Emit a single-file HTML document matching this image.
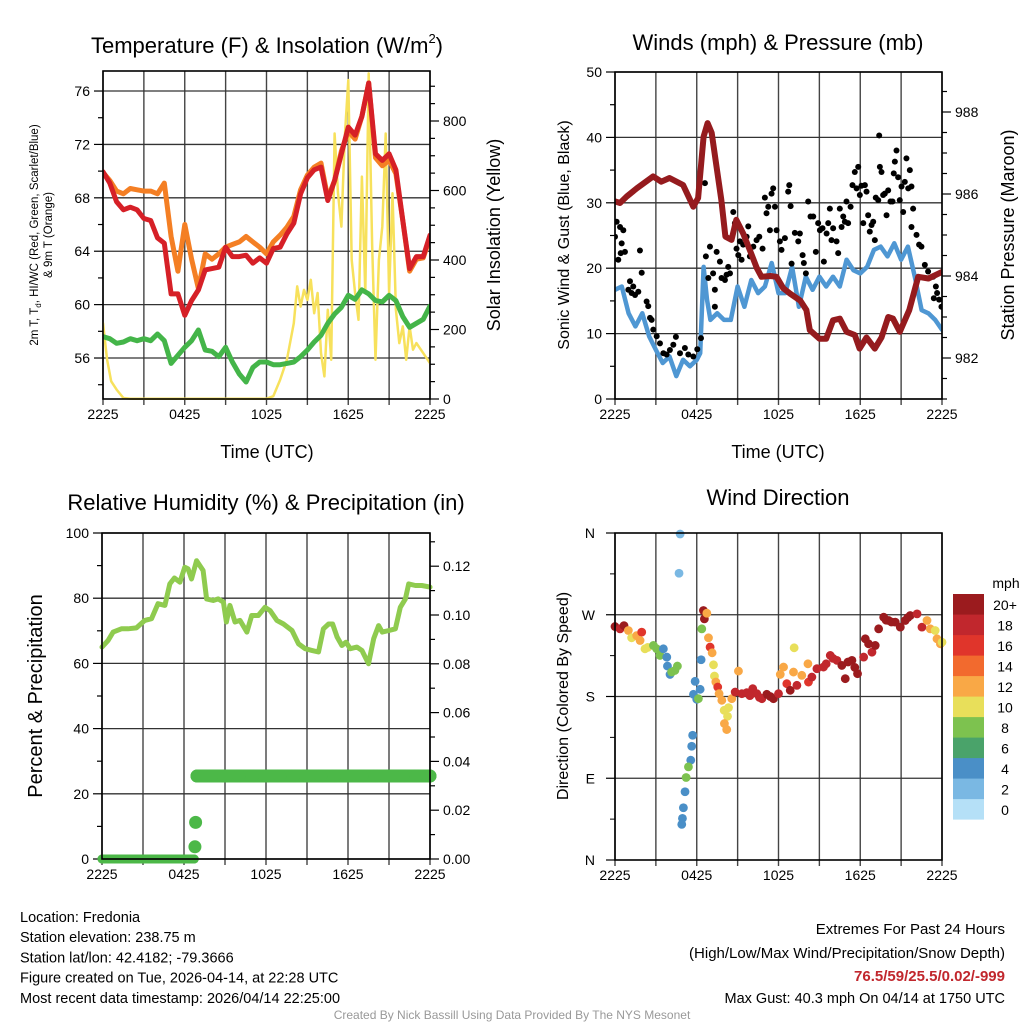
<!DOCTYPE html>
<html><head><meta charset="utf-8"><style>
body{margin:0;background:#fff;}
svg{display:block;font-family:"Liberation Sans",sans-serif;}
</style></head><body>
<svg id="c" width="1024" height="1024" viewBox="0 0 1024 1024"></svg>
<script>
// ---------- Panel 1 data ----------
const tHalf=[0,0.5,1,1.5,2,2.5,3,3.5,4,4.5,5,5.5,6,6.5,7,7.5,8,8.5,9,9.5,10,10.5,11,11.5,12,12.5,13,13.5,14,14.5,15,15.5,16,16.5,17,17.5,18,18.5,19,19.5,20,20.5,21,21.5,22,22.5,23,23.5,24];
const temp2m=[69.95,69.1,67.7,67.1,67.3,67.1,66.45,66.3,65,64.6,60.8,60.8,59.2,60.3,61.1,62.6,62.7,62.8,64.3,63.6,63.6,63.7,63.1,63.5,63.1,64.2,64.3,65.3,66.1,68.3,69.5,70.1,70.3,67.8,69.3,71.3,73.3,72.7,74.1,76.6,71.3,70.8,71.3,70.1,66.3,62.7,63.6,63.6,65.2];
const temp9m=[69.9,69.3,68.5,68.3,68.7,68.6,68.5,68.5,68.3,69.1,65.1,62.5,66.0,63.4,61.2,63.8,63.4,63.8,64.3,64.5,64.7,65.1,64.7,64.3,63.8,64.7,65.2,65.8,66.6,68.6,69.7,70.3,70.6,68.0,69.3,71.5,73.0,72.4,74.1,76.6,71.0,70.4,70.8,69.8,66.3,62.5,63.4,63.5,65.0];
const dewpt=[57.6,57.45,57.1,57.2,57.45,57.3,57.45,57.3,57.8,57.3,55.6,56.2,56.8,57.3,58.1,56.6,56.5,56.1,56.8,55.7,54.8,54.2,55.3,55.7,55.7,55.5,55.5,55.6,55.7,56.1,56.6,57.2,57.7,58.6,59.3,59.8,60.7,60.4,61.1,60.8,60.3,60.2,60.7,60.3,59.1,58.3,58.6,58.9,59.9];
const solarT=[0,0.3,0.6,1,1.5,2,4,6,8,10,12,12.5,13,13.5,14,14.25,14.5,14.75,15,15.25,15.5,15.75,16,16.25,16.5,16.75,17,17.25,17.5,17.75,18,18.25,18.5,18.75,19,19.25,19.5,19.75,20,20.25,20.5,20.75,21,21.25,21.5,21.75,22,22.25,22.5,22.75,23,23.5,24];
const solarV=[218,113,51,27,3,1,1,1,1,1,1,8,55,113,218,324,266,314,285,343,247,305,132,65,257,113,764,592,496,755,918,400,305,228,640,305,937,448,113,400,496,764,305,592,257,161,209,113,209,142,161,132,103];
// ---------- Panel 2 data ----------
const presT=[0,0.37,0.86,1.6,2.8,3.4,4.0,5.0,5.75,6.1,6.5,6.8,7.1,7.45,7.8,8.1,8.55,8.9,9.4,9.9,10.4,10.75,11.4,11.85,12.35,12.85,13.6,14.05,14.3,15.0,15.5,16.0,16.5,17.0,17.6,17.95,18.46,19.07,19.56,20.05,20.4,20.9,21.6,22.25,23.0,24];
const presV=[985.82,985.78,985.94,986.14,986.43,986.3,986.39,986.22,985.69,985.9,987.4,987.73,987.49,986.67,985.86,984.96,984.88,985.37,985.04,984.63,984.2,983.98,984.0,983.98,983.7,983.57,983.4,983.17,982.68,982.47,982.47,982.92,982.96,982.64,982.56,982.23,982.5,982.23,982.5,983.0,982.96,982.64,983.17,983.98,983.94,984.1];
const windT=[0,0.5,1,1.5,2,2.5,3,3.5,4,4.5,5,5.5,6,6.25,6.5,6.75,7,7.5,8,8.5,9,9.5,10,10.5,11,11.5,12,12.5,13,13.5,14,14.5,15,15.5,16,16.5,17,17.5,18,18.5,19,19.5,20,20.5,21,21.5,22,22.5,23,23.5,24];
const windV=[16.7,17.2,13.1,11.1,13.1,9.6,7.5,5.5,6.5,3.5,6.0,5.0,6.0,7.0,20.2,15.2,12.1,13.1,12.1,12.1,17.2,14.1,18.2,16.2,17.2,20.8,16.2,16.2,20.2,14.1,18.7,16.7,18.7,17.2,18.7,17.2,21.3,19.7,19.2,20.2,22.8,23.3,21.8,23.8,21.3,23.3,18.7,13.6,13.1,12.1,10.6];
const gustT=[0,0.12,0.37,0.61,0.24,0.49,0.73,0.42,1.83,1.1,0.98,1.22,1.47,1.71,1.96,1.34,2.32,2.44,2.57,2.69,2.81,3.06,3.3,3.55,3.79,4.03,4.28,4.47,4.77,5.13,5.38,5.75,6.04,6.31,6.6,6.67,6.85,6.97,7.2,7.33,7.33,7.46,7.7,7.82,8.07,8.19,8.31,8.44,8.68,8.8,8.92,9.05,9.17,9.29,9.41,9.66,9.78,9.9,10.15,10.39,10.59,10.83,11,11.12,11.25,11.37,11.49,11.61,11.74,11.86,12.1,12.22,12.47,12.71,12.79,12.89,12.96,13.2,13.45,13.57,13.77,13.86,14.01,14.18,14.35,14.55,14.74,14.91,15.04,15.23,15.33,15.53,15.65,15.77,15.89,16.01,16.26,16.38,16.5,16.63,16.75,16.87,16.99,17.11,17.29,17.43,17.6,17.73,17.85,17.97,18.09,18.22,18.34,18.46,18.58,18.7,18.83,18.95,19.07,19.14,19.32,19.44,19.39,19.56,19.68,19.8,19.93,20.05,20.22,20.37,20.46,20.54,20.66,20.78,20.9,21.03,21.15,21.27,21.39,21.52,21.64,21.76,21.88,21.76,22.13,22.32,22.49,22.74,22.98,23.35,23.55,23.64,23.79,23.4,23.96];
const gustV=[24.8,27.1,26.3,25.8,21.3,23.8,22.5,22.3,22.7,18,16.7,16.2,15.9,16.4,19.3,17.2,14.9,14.2,12.4,12.1,10.6,9.6,8.5,7.0,6.8,7.5,8.3,9.5,7.0,7.8,6.8,6.5,7.6,9.3,33,21.8,18.5,23.3,19.2,16.7,14.1,22.5,21,18.5,18.2,19,20.2,19.2,28.6,26.9,23,22,24.1,21.3,23.6,24.8,26.4,21.8,23.3,24.3,24.8,23,30.8,28.4,29.4,25.8,31.4,32.2,29.4,25.8,24.1,22.8,24.6,31.7,32.7,29.5,20.7,25.4,24.1,25.3,22,20.8,19.2,30.2,27.9,27.9,22.5,26.9,25.8,26.1,21,25.3,26.9,29.1,24.3,26.1,24.1,22.3,29.1,26.3,27.9,27.1,30.2,26.9,29.4,32.7,34.7,32.2,35.5,31.2,32.6,26.9,32.7,31.7,28.1,25.6,26.6,27.1,24.3,30.8,30.4,35.5,40.3,34.7,31.2,31.4,28.1,31.9,30.2,30.2,34.5,36.3,38,33.9,30.4,32.5,28.6,33.2,36.8,32.2,35,32.5,29.1,26.3,25.1,23.6,23.3,20.5,19.5,18.7,17.2,16.2,15.2,15.4,14.1];
// ---------- Panel 3 data ----------
const rhT=[0,0.44,0.81,1.42,1.9,2.52,3.13,3.62,4.1,4.6,4.96,5.3,5.7,6.06,6.3,6.55,6.92,7.4,7.65,8.14,8.5,8.88,9.1,9.36,9.73,10.1,10.6,10.95,11.44,11.93,12.3,12.8,13.28,13.9,14.38,14.87,15.35,15.84,16.2,16.58,16.87,17.2,17.55,17.85,18.17,18.65,19.02,19.5,19.88,20.24,20.5,21,21.47,21.83,22.2,22.44,22.93,23.4,24];
const rhV=[65,67,69.6,70.6,70.6,70.9,73.2,73.7,78.3,77.8,84.4,86.2,84.9,89.5,89,85.9,91.5,88.5,79.8,79.3,79.8,78.8,72.7,77.8,72.7,73.2,69.6,74.7,74.7,77.2,76.2,73.2,72.1,70.1,66,64.5,64,63.5,70.6,72.1,72.1,68.1,65.5,66.5,64.5,65,64,59.9,67.6,71.6,69.6,70.1,70.6,77.2,79.8,84.4,83.9,83.9,83.4];
const precipT=[0,0.5,1,1.5,2,2.5,3,3.5,4,4.5,5,5.5,6,6.5,6.75,6.8,6.85,6.95,7.5,8,9,10,11,12,13,14,15,16,17,18,19,20,21,22,23,24];
const precipV=[0,0,0,0,0,0,0,0,0,0,0,0,0,0,0,0.005,0.015,0.034,0.034,0.034,0.034,0.034,0.034,0.034,0.034,0.034,0.034,0.034,0.034,0.034,0.034,0.034,0.034,0.034,0.034,0.034];
// ---------- Panel 4 data ----------
const dirT=[0,0.37,0.66,0.98,1.22,1.59,1.96,1.84,2.2,2.4,2.82,3.06,3.3,3.55,3.8,3.85,4.04,4.16,4.4,4.58,4.78,4.7,5.76,5.88,6,6.12,6.25,6.32,6.37,6.49,6.56,6.74,5.7,5.63,5.56,5.39,5.22,5.14,5.02,4.95,4.9,6.86,6.98,7.13,7.23,7.3,7.4,7.54,7.64,7.84,8.01,8.26,8.33,8.03,8.2,8.57,8.82,9.06,9.31,9.67,10.11,10.41,10.78,11.14,11.63,12,12.13,12.37,12.61,12.86,13.15,13.1,13.35,13.71,14.16,14.2,14.45,14.82,15.3,15.8,16.29,16.65,16.9,17.39,17.8,18.25,18.37,18.61,18.86,19.1,19.35,19.72,20.08,20.57,20.94,21.3,21.67,22.17,22.53,22.9,23.14,23.5,23.63,23.88,24,9.9,10.6,11.4,15.5,16,17.1,17.6,19.9,20.3,21.5];
const dirV=[257,254.5,258,252.7,244.6,247,250.9,241.7,232.5,234,236.2,232.5,225.2,232.5,223.4,213.5,204.3,207,208.7,213.5,358.9,315.7,182.4,196.7,176.9,177.6,187.9,220.5,254.5,274.7,265.5,271.7,137.3,125.2,109.9,102.5,90.8,75.1,57.5,45.8,39.2,244.6,234.4,228.1,214.9,202.5,196,190.4,183.1,175.8,164.8,158.2,167.7,150.2,143.6,177.6,184.9,208,183.1,184.2,188.6,183.1,177.6,182.4,177.6,183.1,204.3,212.4,194.1,186.8,233.6,206.9,192.3,203.3,216,195.9,201.4,210.6,212.4,225.2,219.8,214.2,199.6,219.8,205.1,223.4,243.5,238,228.8,236.2,254.5,267.3,263.7,261.9,256.4,263.7,269.2,271,256.4,263.7,254.5,252.7,243.5,238,239.8,181,179,180,216,222,218,212,264,262,267];
const dirS=[21,18,21,12,10,12,15,12,10,10,7,7,7,4,4,4,4,7,7,7,2,2,4,4,4,7,4,4,7,21,21,12,4,4,4,7,7,4,4,4,4,12,15,12,10,10,12,16,12,12,10,10,10,12,12,12,18,12,18,18,18,18,18,21,21,18,12,12,16,21,10,12,18,12,12,16,18,18,18,18,18,21,21,21,21,18,21,21,18,21,21,21,21,21,21,21,21,18,18,12,12,10,12,12,10,18,18,21,18,18,21,21,21,21,21];
const cbLabels=["0","2","4","6","8","10","12","14","16","18","20+"];
const cbColors=["#b5e0f7","#7ab8e3","#4a8fc7","#4aa36a","#7dc24f","#e8df5a","#f9a846","#f26a2e","#e0352b","#c1272d","#9b1b1e"];

const NS="http://www.w3.org/2000/svg";
const svg=document.getElementById('c');
function el(tag,attrs,parent){const e=document.createElementNS(NS,tag);for(const k in attrs)e.setAttribute(k,attrs[k]);(parent||svg).appendChild(e);return e;}
function txt(s,x,y,size,anchor,parent,extra){const e=el('text',Object.assign({x:x,y:y,'font-size':size,'text-anchor':anchor||'middle',fill:'#000'},extra||{}),parent);e.textContent=s;return e;}

function panel(name,b){
  const g=el('g',{});
  
  
  const xs=t=>b.x0+t/24*(b.x1-b.x0);
  for(let h=0;h<=24;h+=3){const x=xs(h);const l=el('line',{x1:x,x2:x,y1:b.y0,y2:b.y1+6,stroke:'#444','stroke-width':1.4},g);}
  const xl=["2225","0425","1025","1625","2225"];
  for(let i=0;i<5;i++){const t=txt(xl[i],xs(i*6),b.y1+20,14,'middle',g);}
  return {g,xs};
}
function frame(g,b){const r=el('rect',{x:b.x0,y:b.y0,width:b.x1-b.x0,height:b.y1-b.y0,fill:'none',stroke:'#000','stroke-width':1.6},g);}
function yAxis(g,b,lo,hi,major,minor,side,fmt,grid){
  const ys=v=>b.y1-(v-lo)/(hi-lo)*(b.y1-b.y0);
  const x=side==='l'?b.x0:b.x1, d=side==='l'?-1:1;
  for(let v=Math.ceil(lo/minor-1e-9)*minor;v<=hi+1e-9;v+=minor){
    const y=ys(v);const isMaj=Math.abs(v/major-Math.round(v/major))<1e-6;
    if(isMaj&&grid){const l=el('line',{x1:b.x0,x2:b.x1,y1:y,y2:y,stroke:'#333','stroke-width':1.3},g);}
    const tk=el('line',{x1:x,x2:x+d*(isMaj?9:5),y1:y,y2:y,stroke:'#000','stroke-width':1.2},g);
    if(isMaj&&fmt){const t=txt(fmt(Math.round(v*1000)/1000),x+d*13,y+5,14,side==='l'?'end':'start',g);}
  }
  return ys;
}
function line(g,xs,ys,T,V,color,w,name){
  let d='';for(let i=0;i<T.length;i++)d+=(i?'L':'M')+xs(T[i]).toFixed(1)+' '+ys(V[i]).toFixed(1);
  const p=el('path',{d:d,fill:'none',stroke:color,'stroke-width':w,'stroke-linejoin':'round','stroke-linecap':'round'},g);
  return p;
}
function clipFor(id,b){const cp=el('clipPath',{id:id});el('rect',{x:b.x0,y:b.y0-2,width:b.x1-b.x0,height:b.y1-b.y0+4},cp);}

// ===== Panel 1 =====
const b1={x0:103,x1:430,y0:71,y1:399};
const p1=panel('temperature-panel',b1);
const yT=yAxis(p1.g,b1,52.93,77.5,4,2,'l',v=>String(v),true);
const yS=yAxis(p1.g,b1,0,(399-71)/0.3475,200,50,'r',v=>String(v),false);
clipFor('c1',b1);
const s1=el('g',{'clip-path':'url(#c1)'},p1.g);
line(s1,p1.xs,yS,solarT,solarV,'#f7e15c',2.5,'solar-insolation-line');
line(s1,p1.xs,yT,tHalf,temp9m,'#f47f24',5,'temp-9m-line');
line(s1,p1.xs,yT,tHalf,temp2m,'#d62027',5,'temp-2m-line');
line(s1,p1.xs,yT,tHalf,dewpt,'#44b549',5,'dewpoint-line');
frame(p1.g,b1);
(function(){const t=el('text',{x:267,y:53,'font-size':22,'text-anchor':'middle'});t.innerHTML='Temperature (F) &amp; Insolation (W/m<tspan font-size="13" dy="-10">2</tspan><tspan dy="10">)</tspan>';})();
txt('Time (UTC)',267,458,18,'middle',svg,{});
(function(){const t=el('text',{transform:'translate(38,235) rotate(-90)','font-size':11.5,'text-anchor':'middle'});t.innerHTML='2m T, T<tspan font-size="8" dy="3">d</tspan><tspan dy="-3">, HI/WC (Red, Green, Scarlet/Blue)</tspan>';})();
txt('& 9m T (Orange)',0,0,11.5,'middle',svg,{transform:'translate(52,235) rotate(-90)',});
txt('Solar Insolation (Yellow)',0,0,18,'middle',svg,{transform:'translate(500,235) rotate(-90)',});

// ===== Panel 2 =====
const b2={x0:615,x1:942,y0:72,y1:399};
const p2=panel('wind-pressure-panel',b2);
const yW=yAxis(p2.g,b2,0,50,10,5,'l',v=>String(v),true);
const yP=yAxis(p2.g,b2,982-(399-358)/41,988+(112-72)/41,2,0.5,'r',v=>String(v),false);
clipFor('c2',b2);
const s2=el('g',{'clip-path':'url(#c2)'},p2.g);
line(s2,p2.xs,yW,windT,windV,'#4f97d3',4.5,'sonic-wind-line');
for(let i=0;i<gustT.length;i++){const c=el('circle',{cx:p2.xs(gustT[i]),cy:yW(gustV[i]),r:3,fill:'#000'},s2);

}
line(s2,p2.xs,yP,presT,presV,'#951b1e',6,'pressure-line');
frame(p2.g,b2);
txt('Winds (mph) & Pressure (mb)',778,50,22,'middle',svg,{});
txt('Time (UTC)',778,458,18,'middle',svg,{});
txt('Sonic Wind & Gust (Blue, Black)',0,0,16,'middle',svg,{transform:'translate(569,235) rotate(-90)',});
txt('Station Pressure (Maroon)',0,0,18,'middle',svg,{transform:'translate(1014,235) rotate(-90)',});

// ===== Panel 3 =====
const b3={x0:102,x1:430,y0:533,y1:859};
const p3=panel('humidity-precip-panel',b3);
const yR=yAxis(p3.g,b3,0,100,20,10,'l',v=>String(v),true);
const yPr=yAxis(p3.g,b3,0,(859-533)/2440,0.02,0.01,'r',v=>v.toFixed(2),false);
clipFor('c3',{x0:95,x1:440,y0:533,y1:870});
const s3=el('g',{'clip-path':'url(#c3)'},p3.g);
line(s3,p3.xs,yR,rhT,rhV,'#8fcb4f',5,'humidity-line');
line(s3,p3.xs,yPr,precipT.slice(0,15),precipV.slice(0,15),'#4cb848',9,'precip-line-initial');
line(s3,p3.xs,yPr,precipT.slice(17),precipV.slice(17),'#4cb848',13,'precip-line');
for(let i=0;i<precipT.length;i++){const c=el('circle',{cx:p3.xs(precipT[i]),cy:yPr(precipV[i]),r:i<15?4.5:6.5,fill:'#4cb848'},s3);

}
frame(p3.g,b3);
txt('Relative Humidity (%) & Precipitation (in)',266,510,22,'middle',svg,{});
txt('Percent & Precipitation',0,0,20,'middle',svg,{transform:'translate(42,696) rotate(-90)',});

// ===== Panel 4 =====
const b4={x0:615,x1:942,y0:533,y1:860};
const p4=panel('wind-direction-panel',b4);
const yD=v=>b4.y1-v/360*(b4.y1-b4.y0);
const dl=["N","E","S","W","N"];
for(let i=0;i<5;i++){const y=yD(i*90);
if(i>0&&i<4){const gl=el('line',{x1:b4.x0,x2:b4.x1,y1:y,y2:y,stroke:'#333','stroke-width':1.3},p4.g);}
const tk=el('line',{x1:b4.x0,x2:b4.x0-9,y1:y,y2:y,stroke:'#000','stroke-width':1.2},p4.g);
const t=txt(dl[i],b4.x0-20,y+5,14,'end',p4.g);}
for(let v=45;v<360;v+=90){const y=yD(v);const tk=el('line',{x1:b4.x0,x2:b4.x0-5,y1:y,y2:y,stroke:'#000','stroke-width':1},p4.g);}
const s4=el('g',{},p4.g);
for(let i=0;i<dirT.length;i++){const idx=Math.min(10,Math.round(dirS[i]/2));
const c=el('circle',{cx:p4.xs(dirT[i]),cy:yD(dirV[i]),r:4.4,fill:cbColors[idx]},s4);

}
frame(p4.g,b4);
txt('Wind Direction',778,505,22,'middle',svg,{});
txt('Direction (Colored By Speed)',0,0,16,'middle',svg,{transform:'translate(568,696) rotate(-90)',});
const cb=el('g',{});


txt('mph',1006,588,14,'middle',cb,{});
for(let i=0;i<11;i++){const y=594+(10-i)*20.5;
const r=el('rect',{x:953,y:y,width:31,height:20.6,fill:cbColors[i]},cb);


const t=txt(cbLabels[i],1005,y+16,14,'middle',cb);

}

// ===== Footer text =====
const info=["Location: Fredonia","Station elevation: 238.75 m","Station lat/lon: 42.4182; -79.3666","Figure created on Tue, 2026-04-14, at 22:28 UTC","Most recent data timestamp: 2026/04/14 22:25:00"];
info.forEach((s,i)=>{const t=txt(s,20,922+i*20.2,14.5,'start');});
txt('Extremes For Past 24 Hours',1005,934,15,'end',svg,{});
txt('(High/Low/Max Wind/Precipitation/Snow Depth)',1005,958,15,'end',svg,{});
txt('76.5/59/25.5/0.02/-999',1005,981,15,'end',svg,{fill:'#c1272d','font-weight':'bold',});
txt('Max Gust: 40.3 mph On 04/14 at 1750 UTC',1005,1003,14.5,'end',svg,{});
txt('Created By Nick Bassill Using Data Provided By The NYS Mesonet',512,1019,12,'middle',svg,{fill:'#999',});
</script>
</body></html>
